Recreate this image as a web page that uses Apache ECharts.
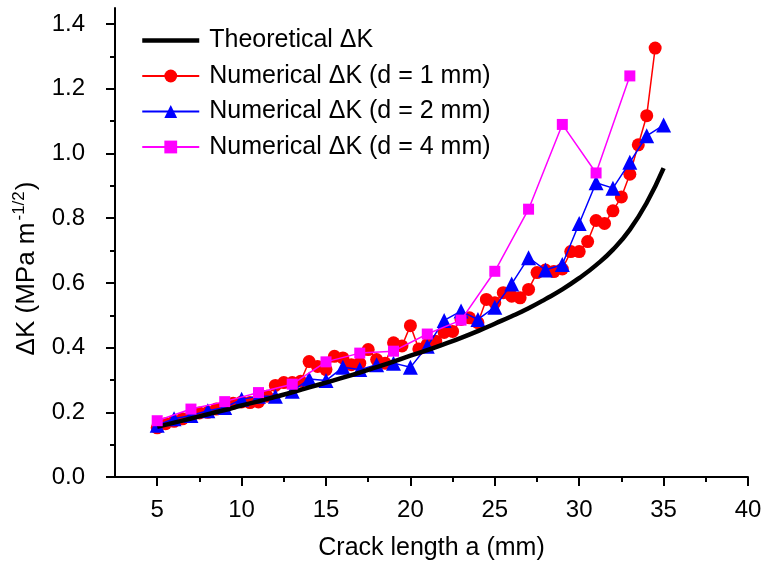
<!DOCTYPE html>
<html>
<head>
<meta charset="utf-8">
<script src="https://cdn.jsdelivr.net/npm/echarts@6/dist/echarts.min.js"></script>
<style>html,body{margin:0;padding:0;background:#fff;}#c{width:763px;height:562px;}</style>
</head>
<body>
<div id="c"></div>
<script>
// Theoretical ΔK (every 1 mm)
const theoA = [5,6,7,8,9,10,11,12,13,14,15,16,17,18,19,20,21,22,23,24,25,26,27,28,29,30,31,32,33,34,35];
const theoK = [0.155,0.168,0.181,0.194,0.207,0.221,0.234,0.248,0.262,0.277,0.292,0.307,0.323,0.340,0.357,0.375,0.392,0.411,0.430,0.451,0.474,0.497,0.522,0.550,0.580,0.615,0.655,0.703,0.765,0.848,0.955];
// Numerical d = 1 mm (every 0.5 mm)
const d1A = [5,5.5,6,6.5,7,7.5,8,8.5,9,9.5,10,10.5,11,11.5,12,12.5,13,13.5,14,14.5,15,15.5,16,16.5,17,17.5,18,18.5,19,19.5,20,20.5,21,21.5,22,22.5,23,23.5,24,24.5,25,25.5,26,26.5,27,27.5,28,28.5,29,29.5,30,30.5,31,31.5,32,32.5,33,33.5,34,34.5];
const d1K = [0.152,0.165,0.172,0.180,0.188,0.198,0.200,0.210,0.218,0.228,0.232,0.230,0.232,0.250,0.283,0.292,0.292,0.296,0.357,0.342,0.332,0.373,0.368,0.347,0.352,0.394,0.363,0.352,0.415,0.405,0.468,0.396,0.410,0.420,0.447,0.450,0.487,0.492,0.477,0.549,0.539,0.570,0.559,0.554,0.580,0.632,0.640,0.635,0.643,0.697,0.697,0.728,0.793,0.784,0.823,0.866,0.936,1.027,1.117,1.326];
// Numerical d = 2 mm (every 1 mm)
const d2A = [5,6,7,8,9,10,11,12,13,14,15,16,17,18,19,20,21,22,23,24,25,26,27,28,29,30,31,32,33,34,35];
const d2K = [0.160,0.180,0.190,0.205,0.215,0.240,0.250,0.250,0.265,0.303,0.298,0.339,0.332,0.347,0.352,0.339,0.404,0.484,0.513,0.487,0.525,0.597,0.678,0.640,0.657,0.784,0.910,0.893,0.973,1.055,1.088];
// Numerical d = 4 mm (every 2 mm)
const d4A = [5,7,9,11,13,15,17,19,21,23,25,27,29,31,33];
const d4K = [0.174,0.210,0.233,0.261,0.287,0.356,0.383,0.389,0.442,0.485,0.636,0.828,1.090,0.940,1.240];

const xMajorTicks = [5,10,15,20,25,30,35,40];
const xMinorTicks = [7.5,12.5,17.5,22.5,27.5,32.5,37.5];
const yMajorTicks = [0,0.2,0.4,0.6,0.8,1.0,1.2,1.4];
const yMinorTicks = [0.1,0.3,0.5,0.7,0.9,1.1,1.3];

const seriesNames = ['Theoretical \u0394K','Numerical \u0394K (d = 1 mm)','Numerical \u0394K (d = 2 mm)','Numerical \u0394K (d = 4 mm)'];

const zip = (a, b) => a.map((v, i) => [v, b[i]]);
const FONT = '"Liberation Sans", Arial, Helvetica, sans-serif';
const XMIN = 2.5, XMAX = 40, YMIN = 0, YMAX = 1.45;

const chart = echarts.init(document.getElementById('c'), null, {renderer: 'canvas'});
const axisLineStyle = {color: '#000', width: 2};
chart.setOption({
  animation: false,
  backgroundColor: '#fff',
  textStyle: {fontFamily: FONT},
  grid: {left: 115, right: 15, top: 8, bottom: 85, containLabel: false, outerBoundsMode: 'none'},
  legend: {
    orient: 'vertical', left: 135, top: 23,
    itemWidth: 57, itemHeight: 16, itemGap: 10.5,
    data: [
      {name: seriesNames[0], itemStyle: {opacity: 0}, lineStyle: {width: 4.5, color: '#000'}},
      {name: seriesNames[1]},
      {name: seriesNames[2]},
      {name: seriesNames[3]}
    ],
    textStyle: {fontSize: 25, color: '#000', fontFamily: FONT, padding: [0,0,0,5]}
  },
  xAxis: [{
    type: 'value', min: XMIN, max: XMAX, position: 'bottom',
    name: 'Crack length a (mm)', nameLocation: 'middle', nameGap: 59,
    nameTextStyle: {fontSize: 25, color: '#000', fontFamily: FONT},
    axisLine: {onZero: false, lineStyle: axisLineStyle},
    axisTick: {show: true, customValues: xMajorTicks, length: 9, lineStyle: {color: '#000', width: 2}},
    axisLabel: {customValues: xMajorTicks, fontSize: 24, color: '#000', margin: 21, fontFamily: FONT},
    splitLine: {show: false}
  }, {
    type: 'value', min: XMIN, max: XMAX, position: 'bottom',
    axisLine: {show: false},
    axisTick: {show: true, customValues: xMinorTicks, length: 5, lineStyle: {color: '#000', width: 2}},
    axisLabel: {show: false},
    splitLine: {show: false}
  }],
  yAxis: [{
    type: 'value', min: YMIN, max: YMAX, position: 'left',
    name: '{a|\u0394K (MPa m}{s|-1/2}{a|)}', nameLocation: 'middle', nameGap: 60, nameRotate: 90,
    nameTextStyle: {
      color: '#000', fontFamily: FONT, padding: [0, 52, 0, 0],
      rich: {
        a: {fontSize: 26, color: '#000', fontFamily: FONT, lineHeight: 32},
        s: {fontSize: 17, color: '#000', fontFamily: FONT, verticalAlign: 'top', lineHeight: 32, padding: [0,1,13,2]}
      }
    },
    axisLine: {onZero: false, lineStyle: axisLineStyle},
    axisTick: {show: true, customValues: yMajorTicks, length: 9, lineStyle: {color: '#000', width: 2}},
    axisLabel: {customValues: yMajorTicks, fontSize: 24, color: '#000', margin: 30, fontFamily: FONT,
      formatter: v => v.toFixed(1)},
    splitLine: {show: false}
  }, {
    type: 'value', min: YMIN, max: YMAX, position: 'left',
    axisLine: {show: false},
    axisTick: {show: true, customValues: yMinorTicks, length: 5, lineStyle: {color: '#000', width: 2}},
    axisLabel: {show: false},
    splitLine: {show: false}
  }],
  series: [{
    name: seriesNames[0], type: 'line', data: zip(theoA, theoK), z: 4,
    symbol: 'none', smooth: true,
    lineStyle: {color: '#000', width: 4.5}, itemStyle: {color: '#000'}
  }, {
    name: seriesNames[1], type: 'line', data: zip(d1A, d1K), z: 2,
    symbol: 'circle', symbolSize: 13,
    lineStyle: {color: '#ff0000', width: 1.5}, itemStyle: {color: '#ff0000'}
  }, {
    name: seriesNames[2], type: 'line', data: zip(d2A, d2K), z: 3,
    symbol: 'triangle', symbolSize: 15,
    lineStyle: {color: '#0000ff', width: 1.5}, itemStyle: {color: '#0000ff'}
  }, {
    name: seriesNames[3], type: 'line', data: zip(d4A, d4K), z: 5,
    symbol: 'rect', symbolSize: 11,
    lineStyle: {color: '#ff00ff', width: 1.5}, itemStyle: {color: '#ff00ff'}
  }]
});
</script>
</body>
</html>
